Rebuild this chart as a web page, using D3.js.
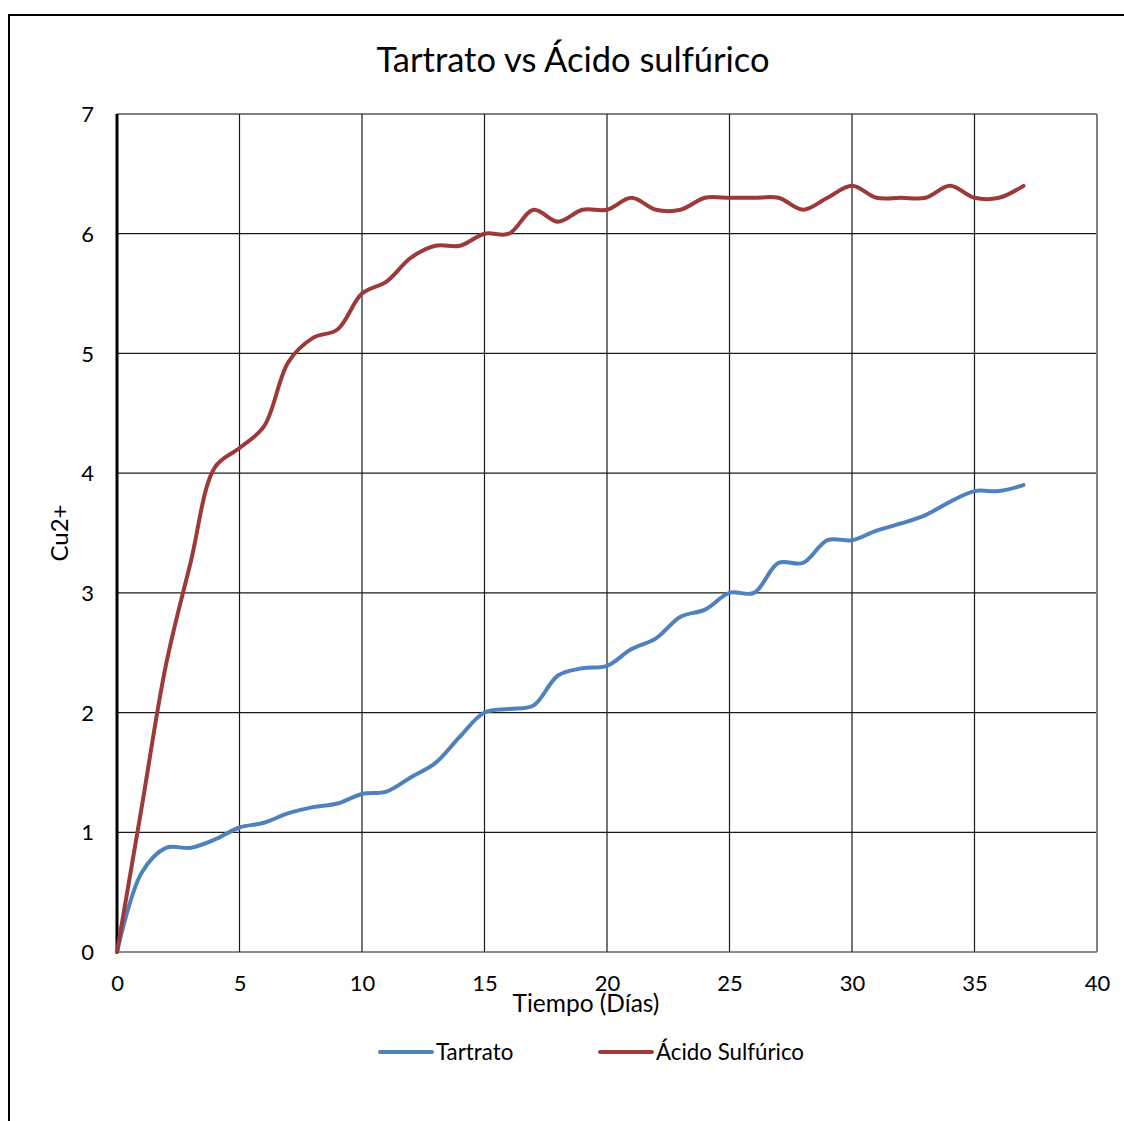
<!DOCTYPE html>
<html>
<head>
<meta charset="utf-8">
<script src="https://cdn.jsdelivr.net/npm/d3@7"></script>
<style>
  html, body { margin: 0; padding: 0; background: #fff; }
  svg { display: block; }
  text { font-family: Lato, "Open Sans", "Liberation Sans", sans-serif; fill: #000; }
</style>
</head>
<body>
<svg id="chart" width="1124" height="1121"></svg>
<script>
// Days of measurement
const days = d3.range(0, 38);

// Cu2+ concentration for each treatment, one value per day
const tartrato = [
  0, 0.66, 0.87, 0.87, 0.94, 1.04, 1.08, 1.16, 1.21, 1.24,
  1.32, 1.34, 1.46, 1.58, 1.8, 2.0, 2.03, 2.06, 2.31, 2.37,
  2.39, 2.53, 2.62, 2.8, 2.86, 3.0, 3.0, 3.25, 3.25, 3.44,
  3.44, 3.52, 3.58, 3.65, 3.76, 3.85, 3.85, 3.9
];
const acidoSulfurico = [
  0, 1.2, 2.4, 3.25, 4.05, 4.21, 4.39, 4.93, 5.13, 5.2,
  5.5, 5.6, 5.8, 5.9, 5.9, 6.0, 6.0, 6.2, 6.1, 6.2,
  6.2, 6.3, 6.2, 6.2, 6.3, 6.3, 6.3, 6.3, 6.2, 6.3,
  6.4, 6.3, 6.3, 6.3, 6.4, 6.3, 6.3, 6.4
];

const xTicks = [0, 5, 10, 15, 20, 25, 30, 35, 40];
const yTicks = [0, 1, 2, 3, 4, 5, 6, 7];

const seriesNames = ["Tartrato", "Ácido Sulfúrico"];
const seriesColors = ["#4F81BD", "#9B3A38"];
const titleText = "Tartrato vs Ácido sulfúrico";
const xTitle = "Tiempo (Días)";
const yTitle = "Cu2+";

const svg = d3.select("#chart");
const plot = { left: 117, top: 114, right: 1097, bottom: 952 };

const x = d3.scaleLinear().domain([0, 40]).range([plot.left, plot.right]);
const y = d3.scaleLinear().domain([0, 7]).range([plot.bottom, plot.top]);

// Outer chart frame
svg.append("rect")
  .attr("x", 9).attr("y", 15)
  .attr("width", 1130).attr("height", 1120)
  .attr("fill", "none").attr("stroke", "#000").attr("stroke-width", 2);

// Title
svg.append("text")
  .attr("x", 573).attr("y", 72)
  .attr("text-anchor", "middle")
  .attr("font-size", 34.5)
  .text(titleText);

// Gridlines
const grid = svg.append("g");
grid.selectAll("line.h").data(yTicks).join("line")
  .attr("x1", plot.left).attr("x2", plot.right)
  .attr("y1", d => y(d)).attr("y2", d => y(d))
  .attr("stroke", d => d === 7 ? "#808080" : "#1a1a1a")
  .attr("stroke-width", d => d === 7 ? 2 : 1.2);
grid.selectAll("line.v").data(xTicks.filter(d => d > 0)).join("line")
  .attr("x1", d => x(d)).attr("x2", d => x(d))
  .attr("y1", plot.top).attr("y2", plot.bottom)
  .attr("stroke", d => d === 40 ? "#808080" : "#1a1a1a")
  .attr("stroke-width", d => d === 40 ? 2 : 1.2);

// Vertical axis line
svg.append("line")
  .attr("x1", plot.left).attr("x2", plot.left)
  .attr("y1", plot.top).attr("y2", plot.bottom)
  .attr("stroke", "#000").attr("stroke-width", 3);

// Tick labels (no tick marks)
const xAxis = d3.axisBottom(x).tickValues(xTicks).tickFormat(d3.format("d")).tickSize(0).tickPadding(0);
const gx = svg.append("g").attr("transform", `translate(0,${plot.bottom + 31})`).call(xAxis);
gx.select(".domain").remove();
gx.selectAll("text").attr("font-size", 22).attr("dy", "0.35em")
  .style("font-family", "Lato, 'Open Sans', sans-serif");

const yAxis = d3.axisLeft(y).tickValues(yTicks).tickFormat(d3.format("d")).tickSize(0).tickPadding(0);
const gy = svg.append("g").attr("transform", `translate(${plot.left - 23},0)`).call(yAxis);
gy.select(".domain").remove();
gy.selectAll("text").attr("font-size", 22).attr("dy", "0.35em")
  .style("font-family", "Lato, 'Open Sans', sans-serif");

// Axis titles
svg.append("text")
  .attr("x", 586).attr("y", 1012)
  .attr("text-anchor", "middle")
  .attr("font-size", 24.5)
  .text(xTitle);
svg.append("text")
  .attr("transform", "translate(68,533) rotate(-90)")
  .attr("text-anchor", "middle")
  .attr("font-size", 24)
  .text(yTitle);

// Smoothed series lines
const line = d3.line()
  .x((d, i) => x(days[i]))
  .y(d => y(d))
  .curve(d3.curveCatmullRom.alpha(0.5));

[tartrato, acidoSulfurico].forEach((vals, k) => {
  svg.append("path")
    .datum(vals)
    .attr("d", line)
    .attr("fill", "none")
    .attr("stroke", seriesColors[k])
    .attr("stroke-width", 4)
    .attr("stroke-linejoin", "round")
    .attr("stroke-linecap", "round");
});

// Legend
const legendX = [380, 600];
const lg = svg.append("g");
seriesNames.forEach((name, k) => {
  lg.append("line")
    .attr("x1", legendX[k]).attr("x2", legendX[k] + 52)
    .attr("y1", 1052).attr("y2", 1052)
    .attr("stroke", seriesColors[k]).attr("stroke-width", 4)
    .attr("stroke-linecap", "round");
  lg.append("text")
    .attr("x", legendX[k] + 56).attr("y", 1060)
    .attr("font-size", 22.3)
    .text(name);
});
</script>
</body>
</html>
